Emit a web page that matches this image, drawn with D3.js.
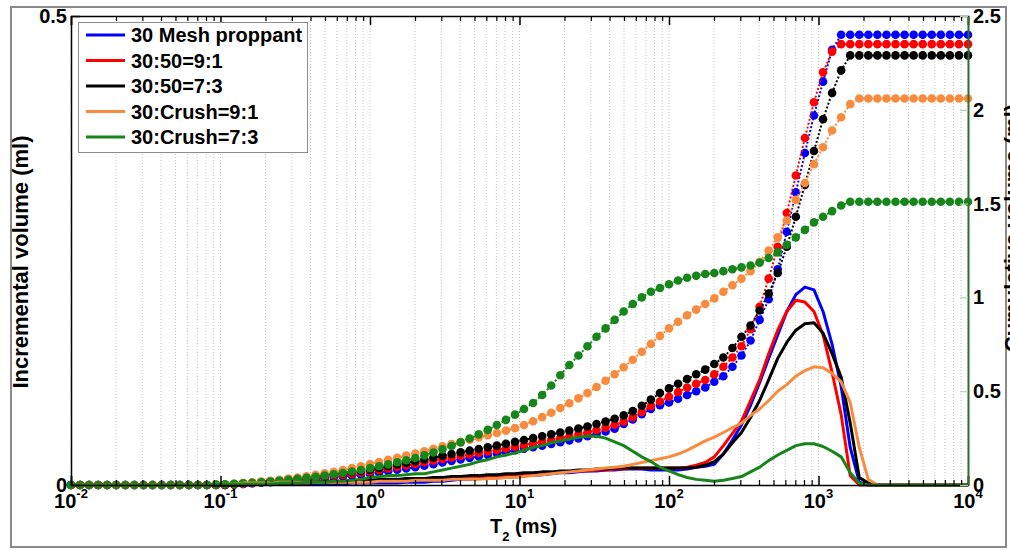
<!DOCTYPE html>
<html>
<head>
<meta charset="utf-8">
<script src="https://cdn.jsdelivr.net/npm/d3@7"></script>
<style>
body { margin: 0; background: #fff; }
svg text { font-family: Arial, "Liberation Sans", sans-serif; font-weight: bold; fill: #000; }
</style>
</head>
<body>
<div id="chart"></div>
<script>
// T2 bins: 100 log-spaced bins from 0.01 to 10000 ms
var t2Min = 0.01, t2Max = 10000, nBins = 100;

var seriesNames = ["30 Mesh proppant", "30:50=9:1", "30:50=7:3", "30:Crush=9:1", "30:Crush=7:3"];
var seriesColors = ["#0000ff", "#ff0000", "#000000", "#f98b3e", "#17861a"];

// incremental volume (ml), one value per bin
var incMesh = [
  0,0,0,0,0,0,0,0,0,0,
  0,0,0,0,0,0,0,0,0,0,
  0,0.001,0.001,0.001,0.001,0.001,0.001,0.001,0.001,0.001,
  0.001,0.002,0.002,0.002,0.002,0.002,0.002,0.003,0.003,0.003,
  0.004,0.004,0.005,0.006,0.006,0.007,0.007,0.008,0.008,0.009,
  0.010,0.010,0.011,0.012,0.013,0.013,0.014,0.015,0.015,0.016,
  0.016,0.017,0.017,0.017,0.016,0.016,0.016,0.016,0.017,0.019,
  0.020,0.022,0.033,0.048,0.064,0.085,0.109,0.135,0.160,0.185,
  0.203,0.211,0.208,0.185,0.150,0.105,0.040,0.003,0,0,
  0,0,0,0,0,0,0,0,0,0
];
var inc50_91 = [
  0,0,0,0,0,0,0,0,0,0,
  0,0,0,0,0,0,0,0,0,0,
  0.001,0.001,0.001,0.002,0.002,0.002,0.002,0.003,0.003,0.003,
  0.003,0.004,0.004,0.004,0.005,0.005,0.005,0.006,0.006,0.006,
  0.007,0.007,0.008,0.008,0.009,0.009,0.010,0.010,0.011,0.011,
  0.012,0.012,0.013,0.013,0.014,0.014,0.015,0.015,0.016,0.016,
  0.017,0.017,0.018,0.018,0.018,0.018,0.018,0.018,0.019,0.021,
  0.024,0.030,0.042,0.055,0.068,0.090,0.112,0.140,0.165,0.185,
  0.197,0.195,0.185,0.160,0.120,0.075,0.010,0,0,0,
  0,0,0,0,0,0,0,0,0,0
];
var inc50_73 = [
  0,0,0,0,0,0,0,0,0,0,
  0,0,0,0,0,0,0,0,0,0,
  0.001,0.001,0.002,0.002,0.002,0.003,0.003,0.003,0.004,0.004,
  0.004,0.005,0.005,0.005,0.006,0.006,0.006,0.007,0.007,0.007,
  0.008,0.008,0.009,0.009,0.010,0.010,0.011,0.011,0.012,0.012,
  0.013,0.013,0.014,0.014,0.015,0.015,0.016,0.016,0.017,0.017,
  0.018,0.018,0.018,0.018,0.018,0.018,0.018,0.018,0.018,0.019,
  0.021,0.025,0.033,0.045,0.056,0.072,0.090,0.112,0.135,0.152,
  0.165,0.172,0.173,0.162,0.140,0.115,0.066,0.008,0.002,0,
  0,0,0,0,0,0,0,0,0,0
];
var incCrush91 = [
  0,0,0,0,0,0,0,0,0,0,
  0,0,0,0,0,0,0.001,0.001,0.001,0.002,
  0.002,0.002,0.002,0.003,0.003,0.003,0.003,0.003,0.003,0.003,
  0.003,0.003,0.003,0.003,0.004,0.004,0.004,0.004,0.005,0.005,
  0.005,0.005,0.006,0.006,0.006,0.006,0.007,0.007,0.008,0.008,
  0.009,0.010,0.011,0.012,0.013,0.014,0.015,0.016,0.017,0.018,
  0.019,0.020,0.022,0.024,0.026,0.028,0.030,0.033,0.037,0.042,
  0.047,0.051,0.056,0.061,0.066,0.074,0.081,0.090,0.100,0.107,
  0.116,0.122,0.126,0.125,0.119,0.110,0.088,0.040,0.006,0,
  0,0,0,0,0,0,0,0,0,0
];
var incCrush73 = [
  0,0,0,0,0,0,0,0,0,0,
  0,0,0,0,0,0,0.001,0.001,0.001,0.001,
  0.001,0.001,0.001,0.002,0.002,0.002,0.003,0.003,0.003,0.004,
  0.004,0.005,0.006,0.008,0.009,0.010,0.010,0.011,0.012,0.012,
  0.014,0.016,0.018,0.020,0.022,0.025,0.027,0.030,0.032,0.034,
  0.037,0.040,0.042,0.045,0.047,0.049,0.051,0.052,0.052,0.050,
  0.046,0.042,0.036,0.030,0.025,0.019,0.015,0.011,0.008,0.006,
  0.005,0.004,0.005,0.007,0.009,0.014,0.019,0.026,0.032,0.037,
  0.042,0.044,0.044,0.041,0.036,0.030,0.013,0.002,0,0,
  0,0,0,0,0,0,0,0,0,0
];

// cumulative volume (ml), one value per bin
var cumMesh = [
  0,0,0,0,0,0,0,0,0,0,
  0,0,0,0,0,0,0,0,0.003,0.006,
  0.009,0.012,0.015,0.018,0.021,0.024,0.028,0.032,0.036,0.040,
  0.045,0.050,0.055,0.060,0.067,0.074,0.081,0.088,0.095,0.103,
  0.111,0.120,0.128,0.136,0.144,0.152,0.160,0.168,0.176,0.185,
  0.193,0.201,0.210,0.219,0.228,0.238,0.248,0.260,0.272,0.285,
  0.300,0.325,0.350,0.378,0.405,0.425,0.44,0.46,0.48,0.50,
  0.52,0.55,0.58,0.63,0.69,0.77,0.88,0.99,1.15,1.35,
  1.56,1.77,1.97,2.15,2.32,2.40,2.40,2.40,2.40,2.40,
  2.40,2.40,2.40,2.40,2.40,2.40,2.40,2.40,2.40,2.40
];
var cum50_91 = [
  0,0,0,0,0,0,0,0,0,0,
  0,0,0,0,0,0,0,0,0.003,0.006,
  0.010,0.014,0.018,0.022,0.026,0.030,0.034,0.039,0.044,0.049,
  0.054,0.060,0.066,0.072,0.080,0.088,0.096,0.104,0.112,0.121,
  0.130,0.139,0.147,0.155,0.163,0.171,0.179,0.187,0.195,0.204,
  0.213,0.222,0.231,0.240,0.250,0.260,0.270,0.281,0.293,0.306,
  0.321,0.339,0.362,0.390,0.420,0.445,0.47,0.495,0.52,0.54,
  0.56,0.59,0.63,0.68,0.74,0.83,0.95,1.10,1.27,1.45,
  1.65,1.85,2.04,2.20,2.31,2.35,2.35,2.35,2.35,2.35,
  2.35,2.35,2.35,2.35,2.35,2.35,2.35,2.35,2.35,2.35
];
var cum50_73 = [
  0,0,0,0,0,0,0,0,0,0,
  0,0,0,0,0,0,0,0,0.004,0.008,
  0.012,0.016,0.020,0.025,0.030,0.035,0.040,0.045,0.051,0.057,
  0.063,0.069,0.075,0.082,0.091,0.100,0.109,0.118,0.127,0.136,
  0.146,0.156,0.165,0.174,0.183,0.192,0.201,0.210,0.220,0.230,
  0.240,0.250,0.260,0.270,0.280,0.290,0.301,0.312,0.325,0.338,
  0.353,0.371,0.394,0.422,0.455,0.49,0.515,0.54,0.565,0.59,
  0.615,0.645,0.68,0.73,0.79,0.85,0.93,1.02,1.13,1.27,
  1.43,1.60,1.78,1.95,2.09,2.21,2.29,2.29,2.29,2.29,
  2.29,2.29,2.29,2.29,2.29,2.29,2.29,2.29,2.29,2.29
];
var cumCrush91 = [
  0,0,0,0,0,0,0,0,0,0,
  0,0,0,0,0,0,0.002,0.004,0.007,0.010,
  0.014,0.018,0.023,0.028,0.034,0.040,0.047,0.054,0.062,0.071,
  0.080,0.090,0.100,0.112,0.123,0.134,0.145,0.157,0.168,0.180,
  0.193,0.206,0.218,0.230,0.242,0.253,0.265,0.277,0.290,0.303,
  0.320,0.340,0.362,0.385,0.410,0.436,0.462,0.490,0.522,0.556,
  0.590,0.628,0.668,0.710,0.752,0.795,0.835,0.870,0.905,0.935,
  0.965,0.995,1.03,1.065,1.10,1.14,1.19,1.25,1.32,1.41,
  1.52,1.61,1.71,1.80,1.89,1.96,2.03,2.06,2.06,2.06,
  2.06,2.06,2.06,2.06,2.06,2.06,2.06,2.06,2.06,2.06
];
var cumCrush73 = [
  0,0,0,0,0,0,0,0,0,0,
  0,0,0,0,0,0,0.002,0.004,0.006,0.009,
  0.012,0.015,0.019,0.023,0.028,0.033,0.038,0.044,0.050,0.057,
  0.064,0.072,0.080,0.090,0.100,0.110,0.121,0.132,0.144,0.158,
  0.173,0.190,0.208,0.227,0.248,0.270,0.294,0.320,0.347,0.375,
  0.405,0.437,0.48,0.53,0.585,0.64,0.69,0.74,0.79,0.835,
  0.88,0.925,0.965,1.00,1.03,1.05,1.07,1.09,1.105,1.115,
  1.125,1.13,1.14,1.15,1.16,1.17,1.185,1.21,1.24,1.28,
  1.32,1.36,1.40,1.43,1.46,1.49,1.51,1.51,1.51,1.51,
  1.51,1.51,1.51,1.51,1.51,1.51,1.51,1.51,1.51,1.51
];

var incSeries = [incMesh, inc50_91, inc50_73, incCrush91, incCrush73];
var cumSeries = [cumMesh, cum50_91, cum50_73, cumCrush91, cumCrush73];

var xDecades = [-2, -1, 0, 1, 2, 3, 4];
var yLeftTicks = [0, 0.5];
var yRightTicks = [0, 0.5, 1, 1.5, 2, 2.5];

var W = 1010, H = 550;
var plot = {left: 71, right: 968, top: 16, bottom: 485};
var svg, x, yL, yR;

function init() {
    svg = d3.select("#chart").append("svg")
        .attr("width", W)
        .attr("height", H);

    x = d3.scaleLog().domain([t2Min, t2Max]).range([plot.left, plot.right]);
    yL = d3.scaleLinear().domain([0, 0.5]).range([plot.bottom, plot.top]);
    yR = d3.scaleLinear().domain([0, 2.5]).range([plot.bottom, plot.top]);

    // outer frame
    svg.append("rect")
        .attr("x", 11).attr("y", 7)
        .attr("width", 995).attr("height", 540)
        .attr("fill", "none")
        .attr("stroke", "#8a8a8a")
        .attr("stroke-width", 2);

    drawGrid();
    drawData();
    drawAxes();
    drawLegend();
    drawLabels();
}

function binValues() {
    var step = (Math.log10(t2Max) - Math.log10(t2Min)) / (nBins - 1);
    return d3.range(nBins).map(function(i) { return Math.pow(10, Math.log10(t2Min) + i * step); });
}

function minorValues() {
    var v = [];
    xDecades.slice(0, -1).forEach(function(d) {
        for (var k = 2; k <= 9; k++) v.push(k * Math.pow(10, d));
    });
    return v;
}

function drawGrid() {
    var all = minorValues().concat(xDecades.map(function(d) { return Math.pow(10, d); }));
    svg.append("g").selectAll("line").data(all).enter().append("line")
        .attr("x1", function(d) { return x(d); })
        .attr("x2", function(d) { return x(d); })
        .attr("y1", plot.top)
        .attr("y2", plot.bottom)
        .attr("stroke", "#c4c4c4")
        .attr("stroke-width", 1)
        .attr("stroke-dasharray", "1,2");
}

function drawData() {
    var t2 = binValues();

    var cumLine = d3.line()
        .x(function(d, i) { return x(t2[i]); })
        .y(function(d) { return yR(d); });
    var incLine = d3.line()
        .x(function(d, i) { return x(t2[i]); })
        .y(function(d) { return yL(d); });

    var gCum = svg.append("g");
    cumSeries.forEach(function(s, k) {
        gCum.append("path")
            .attr("d", cumLine(s))
            .attr("fill", "none")
            .attr("stroke", seriesColors[k])
            .attr("stroke-width", 2)
            .attr("stroke-dasharray", "2,2");
        gCum.append("g").selectAll("circle").data(s).enter().append("circle")
            .attr("cx", function(d, i) { return x(t2[i]); })
            .attr("cy", function(d) { return yR(d); })
            .attr("r", 4.3)
            .attr("fill", seriesColors[k]);
    });

    var gInc = svg.append("g");
    incSeries.forEach(function(s, k) {
        gInc.append("path")
            .attr("d", incLine(s))
            .attr("fill", "none")
            .attr("stroke", seriesColors[k])
            .attr("stroke-width", 3)
            .attr("stroke-linejoin", "round");
    });
}

function drawAxes() {
    var majors = xDecades.map(function(d) { return Math.pow(10, d); });
    var minors = minorValues();

    // bottom and top, major + minor inward ticks
    [[d3.axisBottom, plot.bottom, -9, -5], [d3.axisTop, plot.top, -9, -5]].forEach(function(a) {
        var gMaj = svg.append("g").attr("transform", "translate(0," + a[1] + ")")
            .call(a[0](x).tickValues(majors).tickSize(a[2]).tickFormat(""));
        gMaj.select(".domain").attr("stroke", "#000").attr("stroke-width", 1.5);
        gMaj.selectAll(".tick line").attr("stroke", "#000").attr("stroke-width", 1.5);
        var gMin = svg.append("g").attr("transform", "translate(0," + a[1] + ")")
            .call(a[0](x).tickValues(minors).tickSize(a[3]).tickFormat(""));
        gMin.select(".domain").remove();
        gMin.selectAll(".tick line").attr("stroke", "#000").attr("stroke-width", 1.2);
    });

    // x tick labels 10^n
    var lab = svg.append("g").selectAll("text").data(xDecades).enter().append("text")
        .attr("x", function(d) { return x(Math.pow(10, d)); })
        .attr("y", 508)
        .attr("text-anchor", "middle")
        .style("font-size", "20px");
    lab.append("tspan").text("10");
    lab.append("tspan").attr("dy", -10).style("font-size", "13px").text(function(d) { return d; });

    // left axis
    var gL = svg.append("g").attr("transform", "translate(" + plot.left + ",0)")
        .call(d3.axisLeft(yL).tickValues(yLeftTicks).tickSizeInner(-9).tickSizeOuter(0).tickPadding(4)
            .tickFormat(function(d) { return d === 0 ? "0" : d3.format(".1f")(d); }));
    gL.select(".domain").attr("stroke", "#000").attr("stroke-width", 1.5);
    gL.selectAll(".tick line").attr("stroke", "#000").attr("stroke-width", 1.5);
    gL.selectAll("text").style("font-size", "20px").style("font-family", "Arial, 'Liberation Sans', sans-serif");

    // right axis
    var gR = svg.append("g").attr("transform", "translate(" + plot.right + ",0)")
        .call(d3.axisRight(yR).tickValues(yRightTicks).tickSizeInner(-8).tickSizeOuter(0).tickPadding(5)
            .tickFormat(function(d) { return d3.format("")(d); }));
    gR.select(".domain").attr("stroke", "#2f6e2f").attr("stroke-width", 2);
    gR.selectAll(".tick line").attr("stroke", "#b9cdb9").attr("stroke-width", 1.2);
    gR.selectAll("text").style("font-size", "20px").style("font-family", "Arial, 'Liberation Sans', sans-serif");
}

function drawLegend() {
    var lg = svg.append("g");
    lg.append("rect")
        .attr("x", 78.5).attr("y", 22.5)
        .attr("width", 229).attr("height", 130)
        .attr("fill", "#fff")
        .attr("stroke", "#8c8c8c")
        .attr("stroke-width", 1);
    var rows = lg.selectAll(".row").data(seriesNames).enter().append("g")
        .attr("class", "row")
        .attr("transform", function(d, i) { return "translate(0," + (35 + i * 25.5) + ")"; });
    rows.append("line")
        .attr("x1", 86).attr("x2", 125)
        .attr("stroke", function(d, i) { return seriesColors[i]; })
        .attr("stroke-width", 3);
    rows.append("text")
        .attr("x", 131)
        .attr("dy", "0.36em")
        .style("font-size", "20px")
        .text(function(d) { return d; });
}

function drawLabels() {
    svg.append("text")
        .attr("transform", "translate(28,262) rotate(-90)")
        .attr("text-anchor", "middle")
        .style("font-size", "22px")
        .text("Incremental volume (ml)");

    // cut by the right edge of the picture, as in the reference
    svg.append("text")
        .attr("transform", "translate(1020,228) rotate(-90)")
        .attr("text-anchor", "middle")
        .style("font-size", "22px")
        .text("Cumulative volume (ml)");

    var xl = svg.append("text")
        .attr("x", 490).attr("y", 533)
        .style("font-size", "20px");
    xl.append("tspan").text("T");
    xl.append("tspan").attr("dy", 8).style("font-size", "13px").text("2");
    xl.append("tspan").attr("dy", -8).text(" (ms)");
}

init();
</script>
</body>
</html>
